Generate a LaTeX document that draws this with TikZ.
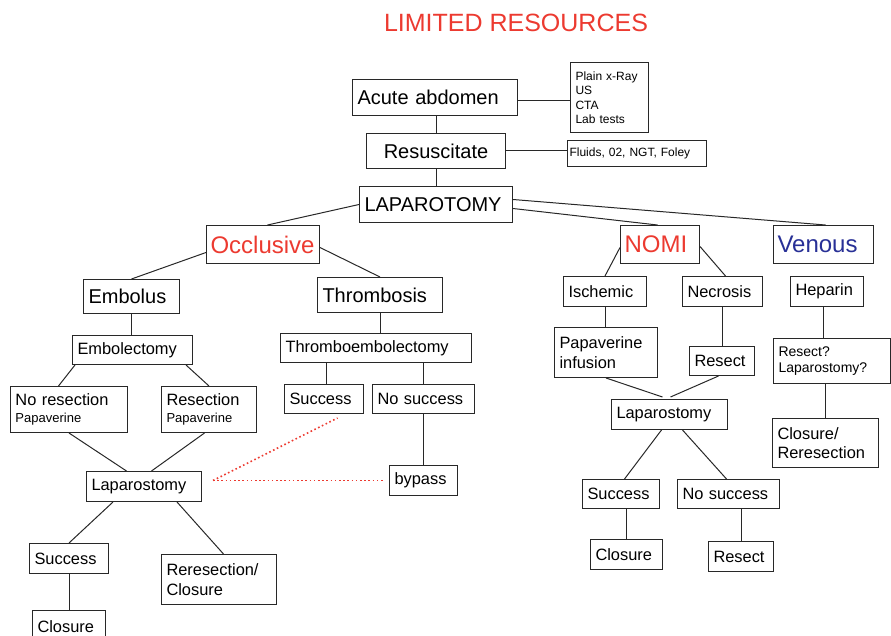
\documentclass[tikz,border=0pt]{standalone}
\usepackage{fontspec}
\setmainfont{Liberation Sans}
\usetikzlibrary{positioning}
\definecolor{RojoTitulo}{RGB}{236,58,48}
\definecolor{AzulVenoso}{RGB}{40,48,150}
\definecolor{Trazo}{RGB}{40,40,40}
\newcommand{\fTitulo}{\fontsize{25}{30}\selectfont}
\newcommand{\fEnorme}{\fontsize{24}{29}\selectfont}
\newcommand{\fGrande}{\fontsize{20}{24}\selectfont}
\newcommand{\fMedio}{\fontsize{16.4}{19.7}\selectfont}
\newcommand{\fChico}{\fontsize{14}{16.8}\selectfont}
\newcommand{\fPeque}{\fontsize{13}{15.6}\selectfont}
\newcommand{\fMini}{\fontsize{12}{14.5}\selectfont}
\hyphenpenalty=10000
\exhyphenpenalty=10000

\begin{document}
\begin{tikzpicture}[
  x=1pt, y=-1pt,
  caja/.style={draw=Trazo, line width=1pt, anchor=north west, align=left,
    inner xsep=5pt, inner ysep=0pt, font=\fMedio, text=black},
  grande/.style={caja, font=\fGrande},
  enorme/.style={caja, font=\fEnorme, inner xsep=4pt},
  linea/.style={draw=Trazo, line width=1pt},
  punteado/.style={draw=RojoTitulo, line width=1.6pt, dash pattern=on 1.6pt off 2.6pt},
]
\useasboundingbox (0,0) rectangle (891,636);

% --- Titulo ---
\node[font=\fTitulo, text=RojoTitulo, anchor=base] (titulo) at (516,32) {LIMITED RESOURCES};

% --- Tronco comun ---
\node[grande, text width=155pt, minimum height=36pt] (acute) at (352,79) {Acute abdomen};
\node[caja, font=\fMini, text width=68pt, minimum height=70pt] (tests) at (570,62) {Plain x-Ray\\US\\CTA\\Lab tests};
\node[grande, align=center, text width=129pt, minimum height=35pt] (resus) at (366,133) {Resuscitate};
\node[caja, font=\fMini, inner xsep=2pt, text width=135pt, minimum height=26pt] (fluids) at (567,140) {Fluids, 02, NGT, Foley};
\node[grande, text width=143pt, minimum height=36pt] (lap) at (359,186) {LAPAROTOMY};

% --- Tres ramas ---
\node[enorme, text=RojoTitulo, text width=105pt, minimum height=38pt] (occl) at (206,225) {Occlusive};
\node[enorme, text=RojoTitulo, text width=71pt, minimum height=38pt] (nomi) at (620,225) {NOMI};
\node[enorme, text=AzulVenoso, text width=92pt, minimum height=38pt] (venous) at (773,225) {Venous};

% --- Rama oclusiva ---
\node[grande, text width=86pt, minimum height=34pt] (embolus) at (83,279) {Embolus};
\node[grande, text width=115pt, minimum height=35pt] (thromb) at (317,277) {Thrombosis};
\node[caja, text width=110pt, minimum height=29pt] (embolect) at (72,335) {Embolectomy};
\node[caja, text width=107pt, minimum height=46pt] (noresec) at (10,386) {No resection\\[-3.4pt]{\fPeque Papaverine}};
\node[caja, text width=85pt, minimum height=46pt] (resec) at (161,386) {Resection\\[-3.4pt]{\fPeque Papaverine}};
\node[caja, text width=105pt, minimum height=30pt] (lapL) at (86,471) {Laparostomy};
\node[caja, text width=181pt, minimum height=29pt] (thrombo) at (280,333) {Thromboembolectomy};
\node[caja, text width=69pt, minimum height=29pt] (succT) at (284,384) {Success};
\node[caja, text width=92pt, minimum height=29pt] (nosuccT) at (372,384) {No success};
\node[caja, text width=58pt, minimum height=30pt] (bypass) at (389,465) {bypass};
\node[caja, text width=69pt, minimum height=30pt] (succL) at (29,543) {Success};
\node[caja, text width=105pt, minimum height=50pt] (rereseL) at (161,554) {Reresection/\\Closure};
\node[caja, text width=63pt, minimum height=32pt] (closL) at (32,610) {Closure};

% --- Rama NOMI ---
\node[caja, text width=73pt, minimum height=30pt] (isch) at (563,276) {Ischemic};
\node[caja, text width=70pt, minimum height=30pt] (necro) at (682,276) {Necrosis};
\node[caja, text width=93pt, minimum height=50pt] (papinf) at (554,327) {Papaverine\\infusion};
\node[caja, text width=55pt, minimum height=29pt] (resectN) at (689,346) {Resect};
\node[caja, text width=106pt, minimum height=30pt] (lapN) at (611,399) {Laparostomy};
\node[caja, text width=67pt, minimum height=29pt] (succN) at (582,479) {Success};
\node[caja, text width=92pt, minimum height=29pt] (nosuccN) at (677,479) {No success};
\node[caja, text width=62pt, minimum height=30pt] (closN) at (590,539) {Closure};
\node[caja, text width=55pt, minimum height=30pt] (resectB) at (708,541) {Resect};

% --- Rama venosa ---
\node[caja, text width=63pt, minimum height=30pt] (hepar) at (790,276) {Heparin};
\node[caja, font=\fChico, text width=107pt, minimum height=45pt] (resq) at (773,338) {Resect?\\Laparostomy?};
\node[caja, text width=96pt, minimum height=49pt] (closR) at (772,418) {Closure/\\Reresection};

% --- Conectores ---
\draw[linea] ([yshift=-3pt]acute.east) -- ([yshift=-3pt]acute.east -| tests.west);
\draw[linea] (resus.north |- acute.south) -- (resus.north);
\draw[linea] (resus.east) -- (resus.east -| fluids.west);
\draw[linea] (resus.south) -- (resus.south |- lap.north);
\draw[linea] (lap.west) -- ([xshift=4.5pt]occl.north);
\draw[linea] ([yshift=-4pt]lap.east) -- ([xshift=-2.5pt]nomi.north);
\draw[linea] ([yshift=5pt]lap.east) -- ([xshift=2pt]venous.north);

\draw[linea] ([yshift=-8pt]occl.west) -- (embolus.north);
\draw[linea] ([yshift=-3pt]occl.east) -- (thromb.north);
\draw[linea] (embolus.south) -- (embolus.south |- embolect.north);
\draw[linea] ([xshift=3pt]embolect.south west) -- ([xshift=-10.5pt]noresec.north);
\draw[linea] ([xshift=-7pt]embolect.south east) -- (resec.north);
\draw[linea] (noresec.south) -- ([xshift=-17.5pt]lapL.north);
\draw[linea] ([xshift=-4.5pt]resec.south) -- ([xshift=7.5pt]lapL.north);
\draw[linea] ([xshift=27pt]lapL.south west) -- (succL.north);
\draw[linea] ([xshift=-25pt]lapL.south east) -- ([xshift=4.5pt]rereseL.north);
\draw[linea] (succL.south) -- (succL.south |- closL.north);
\draw[linea] (thromb.south) -- (thromb.south |- thrombo.north);
\draw[linea] ([xshift=2.5pt]succT.north |- thrombo.south) -- ([xshift=2.5pt]succT.north);
\draw[linea] (nosuccT.north |- thrombo.south) -- (nosuccT.north);
\draw[linea] (nosuccT.south) -- (nosuccT.south |- bypass.north);

\coordinate (dotL) at ([xshift=11pt,yshift=6pt]lapL.east);
\draw[punteado] (dotL) -- ([xshift=13.5pt,yshift=-4pt]succT.south);
\draw[punteado] (dotL) -- ([xshift=-4pt]bypass.west);

\draw[linea] ([yshift=-3pt]nomi.west) -- (isch.north);
\draw[linea] ([yshift=-2pt]nomi.east) -- ([xshift=3pt]necro.north);
\draw[linea] (isch.south) -- (isch.south |- papinf.north);
\draw[linea] (necro.south) -- (necro.south |- resectN.north);
\draw[linea] (papinf.south) -- ([xshift=-7pt,yshift=2pt]lapN.north);
\draw[linea] ([xshift=-3.5pt]resectN.south) -- ([xshift=1pt,yshift=2pt]lapN.north);
\draw[linea] ([xshift=-8pt]lapN.south) -- ([xshift=3.5pt]succN.north);
\draw[linea] ([xshift=13pt]lapN.south) -- ([xshift=-2pt]nosuccN.north);
\draw[linea] (closN.north |- succN.south) -- (closN.north);
\draw[linea] (resectB.north |- nosuccN.south) -- (resectB.north);

\draw[linea] ([xshift=-3.5pt]hepar.south) -- ([xshift=-3.5pt]hepar.south |- resq.north);
\draw[linea] (closR.north |- resq.south) -- (closR.north);

\end{tikzpicture}
\end{document}
